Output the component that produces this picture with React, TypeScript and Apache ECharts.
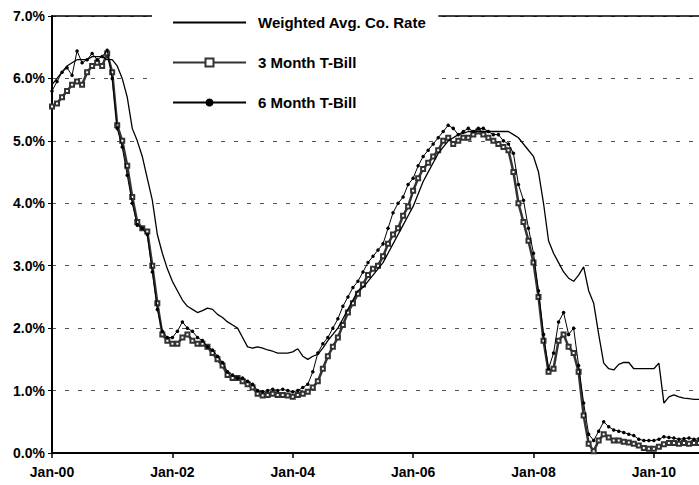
import React, { useEffect, useRef } from "react";
import * as echarts from "echarts";

// Monthly observations, Jan-2000 (index 0) through Oct-2010 (index 129)
const weightedAvgCoRate = [
  5.9, 6.0, 6.1, 6.2, 6.25, 6.3, 6.3, 6.3, 6.35, 6.35, 6.35, 6.3,
  6.3, 6.2, 6.0, 5.7, 5.2, 5.0, 4.75, 4.4, 4.05, 3.5, 3.2, 2.95,
  2.75, 2.6, 2.45, 2.35, 2.3, 2.25, 2.28, 2.32, 2.3, 2.22, 2.17, 2.1,
  2.05, 2.0, 1.85, 1.7, 1.68, 1.7, 1.68, 1.65, 1.63, 1.6, 1.6, 1.6,
  1.62, 1.67, 1.55, 1.5, 1.55, 1.58, 1.68, 1.8, 1.9, 2.0, 2.15, 2.3,
  2.45, 2.6, 2.65, 2.75, 2.85, 2.95, 3.05, 3.2, 3.35, 3.5, 3.65, 3.8,
  3.95, 4.15, 4.35, 4.5, 4.65, 4.8, 4.9, 5.0, 5.05, 5.1, 5.12, 5.15,
  5.15, 5.15, 5.15, 5.15, 5.15, 5.15, 5.15, 5.15, 5.1, 5.05, 4.95, 4.85,
  4.75, 4.5, 4.0, 3.4, 3.2, 3.05, 2.9, 2.8, 2.75, 2.85, 2.98, 2.6,
  2.4, 1.9, 1.44, 1.35, 1.33, 1.42, 1.45, 1.45, 1.35, 1.35, 1.35, 1.35,
  1.35, 1.44, 0.8, 0.9, 0.93, 0.9, 0.88, 0.87, 0.86, 0.86,
];

const threeMonthTBill = [
  5.55, 5.6, 5.7, 5.8, 5.9, 5.95, 5.9, 6.1, 6.2, 6.25, 6.2, 6.4,
  6.1, 5.25, 5.0, 4.6, 4.1, 3.7, 3.6, 3.55, 3.0, 2.4, 1.9, 1.8,
  1.75, 1.75, 1.85, 1.9, 1.8, 1.75, 1.75, 1.7, 1.6, 1.5, 1.4, 1.25,
  1.2, 1.2, 1.15, 1.1, 1.05, 0.95, 0.92, 0.93, 0.95, 0.93, 0.93, 0.92,
  0.9, 0.93, 0.95, 0.98, 1.05, 1.15, 1.35, 1.55, 1.7, 1.85, 2.05, 2.25,
  2.4, 2.55, 2.7, 2.85, 2.95, 3.0, 3.15, 3.35, 3.5, 3.6, 3.8, 3.95,
  4.2, 4.4, 4.55, 4.65, 4.75, 4.85, 5.0, 5.05, 4.95, 5.0, 5.05, 5.05,
  5.1, 5.15, 5.1, 5.05, 5.0, 4.95, 4.9, 4.85, 4.5, 4.0, 3.7, 3.4,
  3.05, 2.5, 1.8, 1.3, 1.35, 1.8, 1.9, 1.7, 1.6, 1.3, 0.6, 0.15,
  0.03, 0.2, 0.3, 0.25, 0.2, 0.2, 0.18, 0.17, 0.15, 0.12, 0.08, 0.07,
  0.07, 0.1, 0.14, 0.16, 0.16, 0.15, 0.16, 0.15, 0.16, 0.16,
];

const sixMonthTBill = [
  5.8, 5.95, 6.1, 6.17, 6.05, 6.44, 6.25, 6.3, 6.4, 6.3, 6.35, 6.45,
  6.0, 5.2, 4.9, 4.45, 4.0, 3.65, 3.6, 3.5, 2.9, 2.3, 1.95, 1.85,
  1.85, 1.95, 2.1, 2.0, 1.95, 1.85, 1.8, 1.7, 1.65, 1.55, 1.45, 1.3,
  1.25, 1.2, 1.2, 1.15, 1.1, 1.0, 0.98, 1.0, 1.02, 1.0, 1.02, 1.0,
  0.98, 1.0, 1.05, 1.1, 1.3, 1.6, 1.75, 1.85, 2.0, 2.15, 2.35, 2.5,
  2.65, 2.75, 2.9, 3.05, 3.15, 3.25, 3.35, 3.6, 3.85, 4.0, 4.1, 4.3,
  4.4, 4.6, 4.75, 4.85, 4.95, 5.05, 5.15, 5.25, 5.2, 5.1, 5.15, 5.2,
  5.15, 5.2, 5.2, 5.15, 5.1, 5.1, 5.0, 4.95, 4.8, 4.3, 4.05, 3.6,
  3.2, 2.6, 1.9, 1.35, 1.6, 2.1, 2.25, 1.9, 2.0, 1.4, 0.8, 0.3,
  0.2, 0.35, 0.5, 0.42, 0.37, 0.35, 0.33, 0.3, 0.28, 0.22, 0.2, 0.2,
  0.2, 0.22, 0.26, 0.25, 0.24, 0.22, 0.23, 0.24, 0.22, 0.23,
];

const tickLabels = ["Jan-00", "Jan-02", "Jan-04", "Jan-06", "Jan-08", "Jan-10"];
const seriesNames = ["Weighted Avg. Co. Rate", "3 Month T-Bill", "6 Month T-Bill"];

const FONT = "'Liberation Sans', Arial, sans-serif";

const toPairs = (arr: number[]) => arr.map((v, i) => [i, v]);

export default function App() {
  const ref = useRef<HTMLDivElement>(null);

  useEffect(() => {
    if (!ref.current) return;
    const chart = echarts.init(ref.current, undefined, { renderer: "svg" });
    const lastMonth = weightedAvgCoRate.length - 1;
    chart.setOption({
      animation: false,
      backgroundColor: "#fff",
      grid: { left: 52, right: 0, top: 16, bottom: 32 },
      legend: {
        orient: "vertical",
        left: 152,
        top: 0,
        padding: [15, 12, 6, 20],
        backgroundColor: "#fff",
        itemWidth: 73,
        itemHeight: 10,
        itemGap: 25,
        data: [
          { name: seriesNames[0], itemStyle: { opacity: 0 } },
          { name: seriesNames[1] },
          { name: seriesNames[2] },
        ],
        textStyle: {
          fontFamily: FONT,
          fontSize: 15,
          fontWeight: "bold",
          color: "#000",
          padding: [0, 0, 0, 7],
        },
      },
      xAxis: [
        {
          type: "value",
          min: 0,
          max: lastMonth,
          interval: 24,
          axisLine: { show: true, lineStyle: { color: "#000", width: 2 } },
          axisTick: { show: true, length: 5, lineStyle: { color: "#000", width: 1.5 } },
          splitLine: { show: false },
          axisLabel: {
            showMaxLabel: false,
            margin: 12,
            fontFamily: FONT,
            fontSize: 14,
            fontWeight: "bold",
            color: "#000",
            formatter: (v: number) => (v % 24 === 0 ? tickLabels[v / 24] ?? "" : ""),
          },
        },
        {
          type: "value",
          position: "top",
          min: 0,
          max: lastMonth,
          axisLine: { show: true, onZero: false, lineStyle: { color: "#000", width: 1.5 } },
          axisTick: { show: false },
          axisLabel: { show: false },
          splitLine: { show: false },
        },
      ],
      yAxis: {
        type: "value",
        min: 0,
        max: 7,
        interval: 1,
        axisLine: { show: true, lineStyle: { color: "#000", width: 2 } },
        axisTick: { show: true, length: 4, lineStyle: { color: "#000" } },
        axisLabel: {
          margin: 7,
          fontFamily: FONT,
          fontSize: 14,
          fontWeight: "bold",
          color: "#000",
          formatter: (v: number) => v.toFixed(1) + "%",
        },
        splitLine: {
          show: true,
          lineStyle: { color: "#555", width: 1, type: [4, 9] },
        },
      },
      series: [
        {
          name: seriesNames[0],
          type: "line",
          data: toPairs(weightedAvgCoRate),
          symbol: "none",
          lineStyle: { color: "#000", width: 1.3 },
          itemStyle: { color: "#000" },
          z: 3,
        },
        {
          name: seriesNames[1],
          type: "line",
          data: toPairs(threeMonthTBill),
          symbol: "emptyRect",
          symbolSize: 4,
          lineStyle: { color: "#333", width: 2.5 },
          itemStyle: { color: "#333", borderWidth: 1 },
          z: 2,
        },
        {
          name: seriesNames[2],
          type: "line",
          data: toPairs(sixMonthTBill),
          symbol: "circle",
          symbolSize: 3.5,
          lineStyle: { color: "#000", width: 1 },
          itemStyle: { color: "#000" },
          z: 4,
        },
      ],
    });
    return () => chart.dispose();
  }, []);

  return (
    <div
      ref={ref}
      style={{ position: "fixed", left: 0, top: 0, width: 699, height: 485 }}
    />
  );
}
